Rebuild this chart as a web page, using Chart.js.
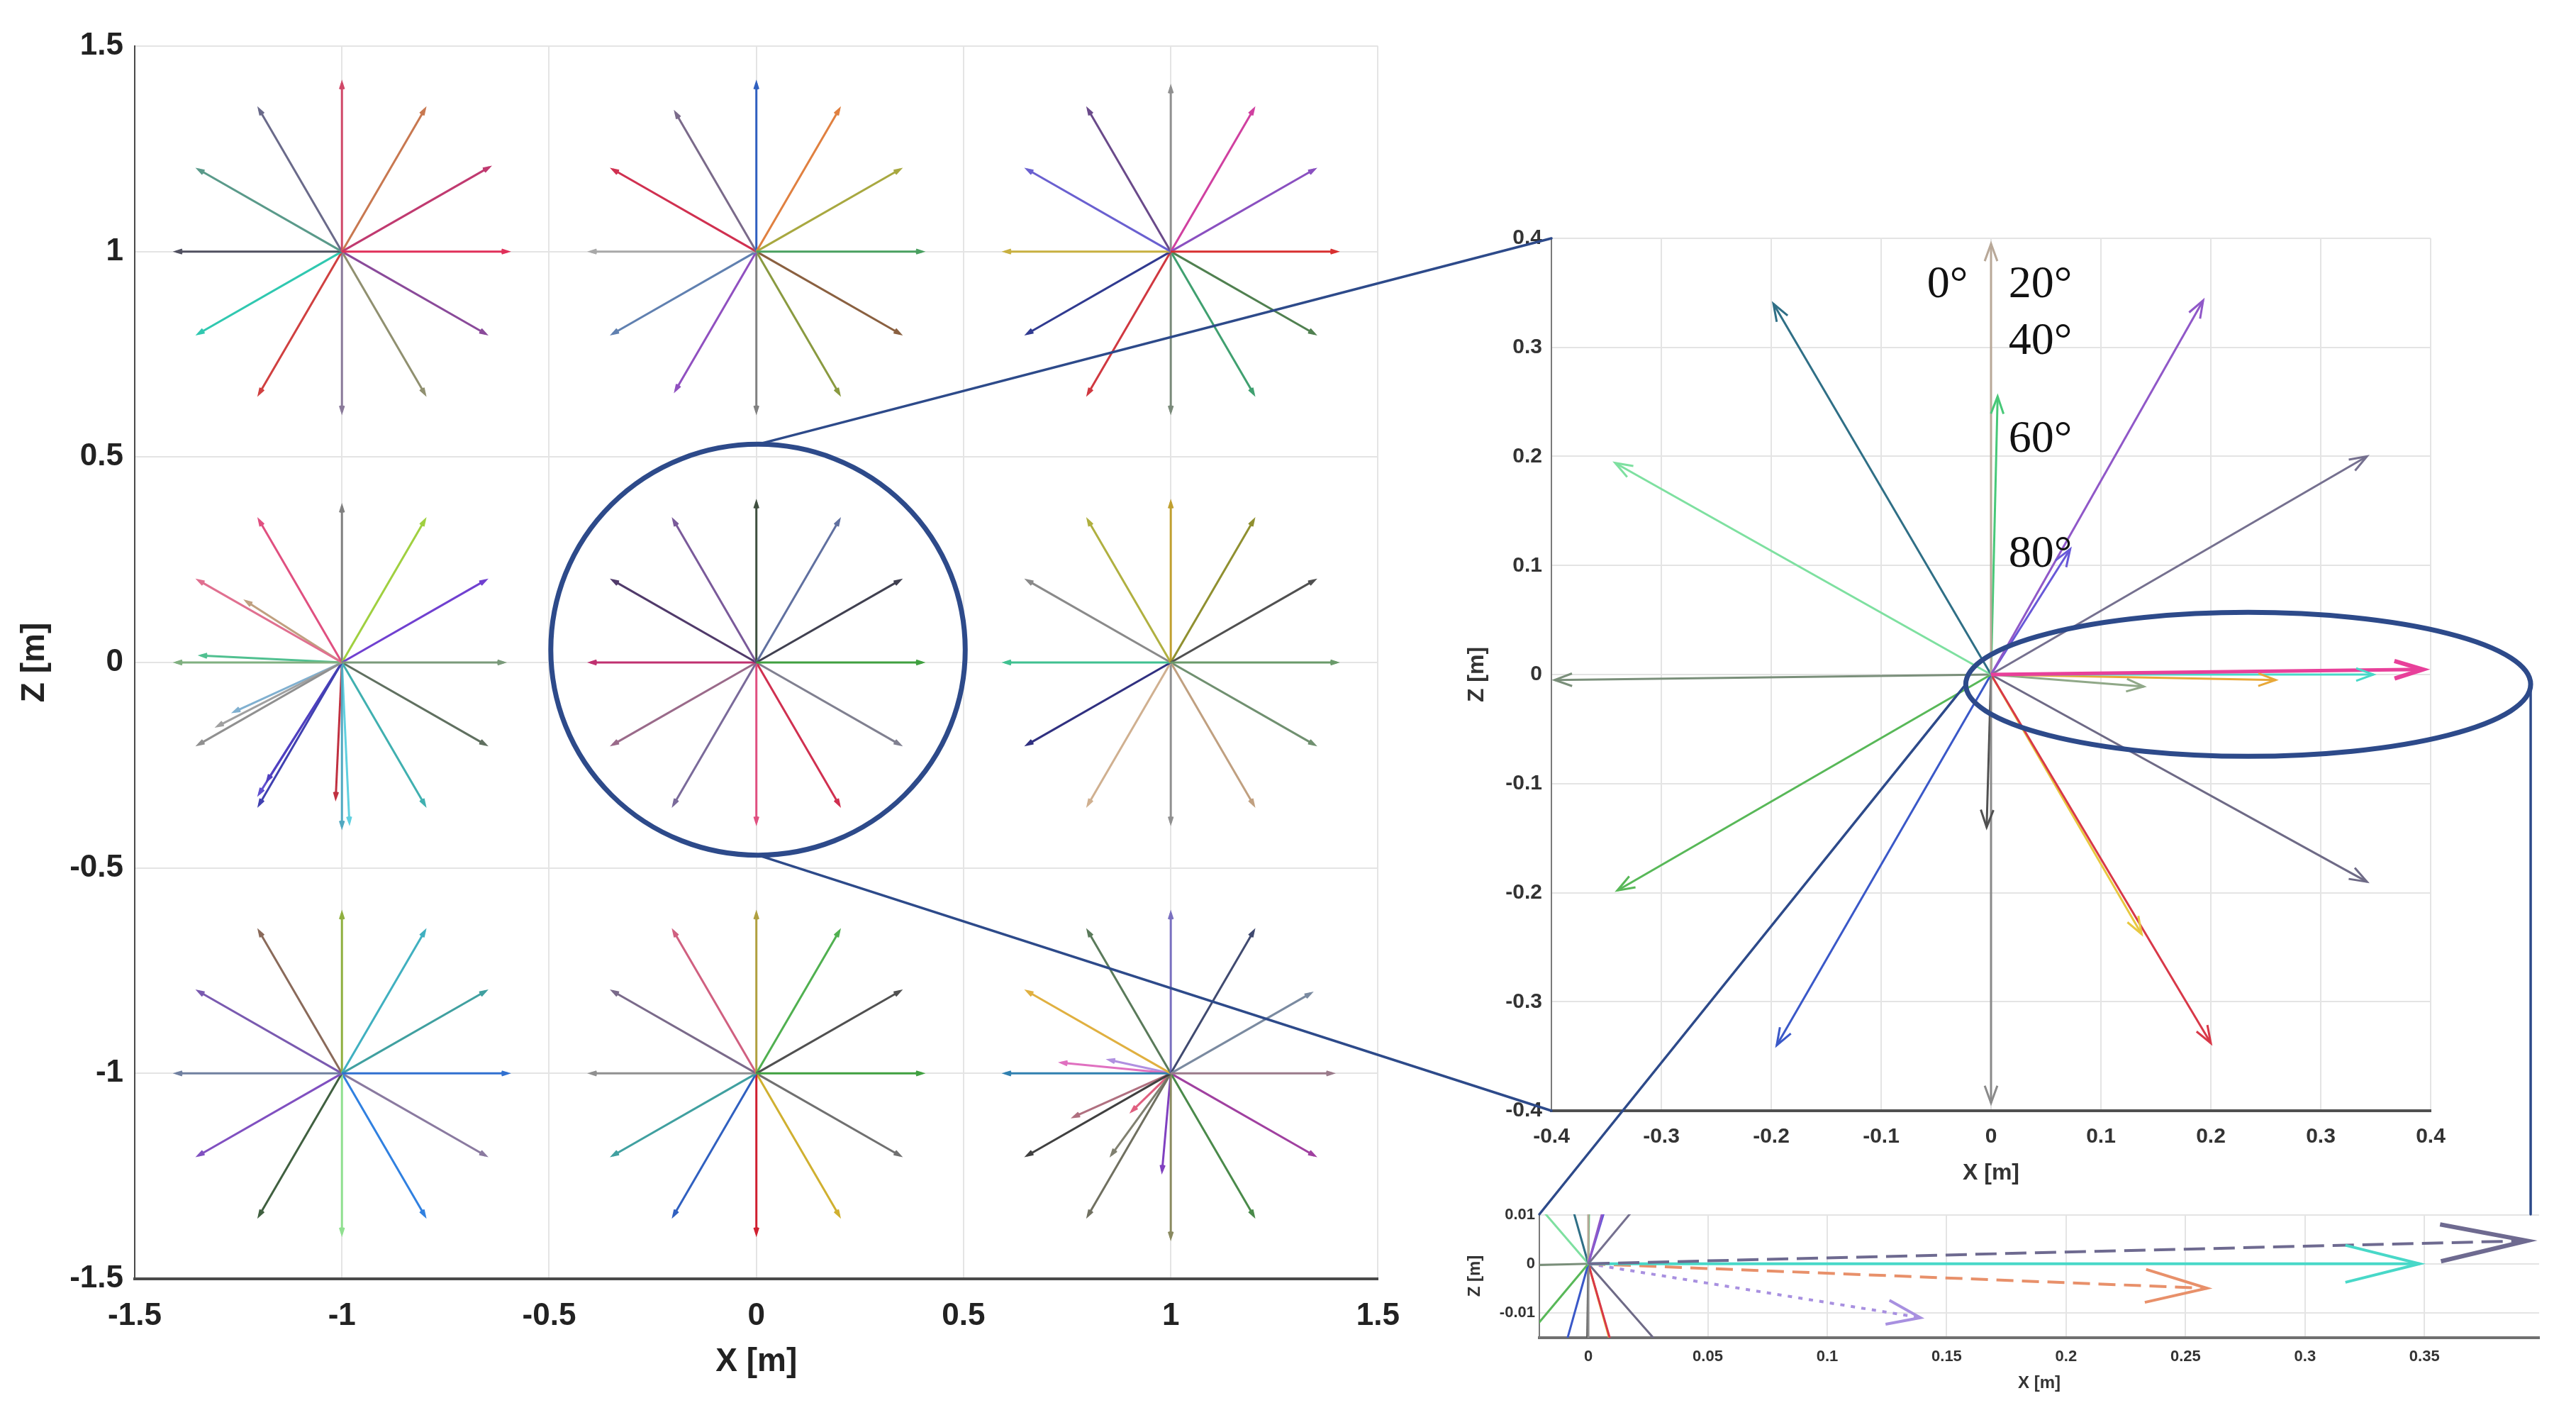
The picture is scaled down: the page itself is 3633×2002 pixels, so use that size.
<!DOCTYPE html>
<html>
<head>
<meta charset="utf-8">
<title>Quiver star patterns</title>
<script src="https://cdn.jsdelivr.net/npm/chart.js@4.4.1/dist/chart.umd.min.js"></script>
<style>
html, body { margin:0; padding:0; background:#ffffff; }
body { position:relative; width:3633px; height:2002px; overflow:hidden; }
canvas { position:absolute; display:block; }
</style>
</head>
<body>
<canvas id="mainChart" width="2000" height="2002" style="left:0px;top:0px;"></canvas>
<canvas id="insetChart" width="1470" height="1400" style="left:2030px;top:300px;"></canvas>
<canvas id="zoomChart" width="1600" height="312" style="left:2030px;top:1690px;"></canvas>
<canvas id="overlay" width="3633" height="2002" style="left:0px;top:0px;pointer-events:none;"></canvas>
<script>
// ================= DATA =================
// main chart
const mainTicksX = [-1.5, -1, -0.5, 0, 0.5, 1, 1.5];
const mainTicksZ = [-1.5, -1, -0.5, 0, 0.5, 1, 1.5];
const starCenterX = [-1, 0, 1, -1, 0, 1, -1, 0, 1];
const starCenterZ = [1, 1, 1, 0, 0, 0, -1, -1, -1];
const rayAnglesDeg = [0, 30, 60, 90, 120, 150, 180, 210, 240, 270, 300, 330];
const rayLengths = [
  [0.40, 0.41, 0.40, 0.41, 0.40, 0.40, 0.40, 0.40, 0.40, 0.39, 0.40, 0.40],
  [0.40, 0.40, 0.40, 0.41, 0.39, 0.40, 0.40, 0.40, 0.39, 0.39, 0.40, 0.40],
  [0.40, 0.40, 0.40, 0.40, 0.40, 0.40, 0.40, 0.40, 0.40, 0.39, 0.40, 0.40],
  [0.39, 0.40, 0.40, 0.38, 0.40, 0.40, 0.40, 0.40, 0.40, 0.40, 0.40, 0.40],
  [0.40, 0.40, 0.40, 0.39, 0.40, 0.40, 0.40, 0.40, 0.40, 0.39, 0.40, 0.40],
  [0.40, 0.40, 0.40, 0.39, 0.40, 0.40, 0.40, 0.40, 0.40, 0.39, 0.40, 0.40],
  [0.40, 0.40, 0.40, 0.39, 0.40, 0.40, 0.40, 0.40, 0.40, 0.39, 0.40, 0.40],
  [0.40, 0.40, 0.40, 0.39, 0.40, 0.40, 0.40, 0.40, 0.40, 0.39, 0.40, 0.40],
  [0.39, 0.39, 0.40, 0.39, 0.40, 0.40, 0.40, 0.40, 0.40, 0.40, 0.40, 0.40]
];
const extraRayStar = [3, 3, 3, 3, 3, 3, 3, 3, 8, 8, 8, 8, 8, 8];
const extraRayDX = [-0.34, -0.231, -0.30, -0.26, -0.18, -0.20, -0.015, 0.018, -0.264, -0.149, -0.234, -0.143, -0.094, -0.021];
const extraRayDZ = [0.017, 0.149, -0.155, -0.12, -0.287, -0.32, -0.33, -0.39, 0.026, 0.033, -0.106, -0.198, -0.092, -0.238];

// right inset chart (zoom on the centre star)
const insetTicksX = [-0.4, -0.3, -0.2, -0.1, 0, 0.1, 0.2, 0.3, 0.4];
const insetTicksZ = [-0.4, -0.3, -0.2, -0.1, 0, 0.1, 0.2, 0.3, 0.4];
const insetRayDX = [0.393, 0.348, 0.259, 0.139, 0.342, 0.193, 0.072, 0.000, 0.006, -0.198, -0.342, -0.397, -0.340, -0.195, 0.000, -0.004, 0.200, 0.137, 0.342];
const insetRayDZ = [0.0047, 0.000, -0.005, -0.011, 0.200, 0.343, 0.115, 0.395, 0.255, 0.340, 0.194, -0.005, -0.198, -0.340, -0.393, -0.140, -0.338, -0.238, -0.190];
const angleLabels = ['0°', '20°', '40°', '60°', '80°'];
const angleLabelX = [-0.021, 0.016, 0.016, 0.016, 0.016];
const angleLabelZ = [0.357, 0.357, 0.305, 0.215, 0.110];

// bottom-right zoom chart
const zoomTicksX = [0, 0.05, 0.1, 0.15, 0.2, 0.25, 0.3, 0.35];
const zoomTicksZ = [-0.01, 0, 0.01];

// annotation shapes (data coordinates)
const circleCenter = [0.004, 0.031];
const circleRadius = 0.5;
const ellipseCenter = [0.234, -0.009];
const ellipseRadii = [0.257, 0.066];

// ================= STYLES =================
const starColors = [
  ['#e0305a', '#c03a70', '#c87850', '#d04868', '#6a6a8a', '#5a9a8a', '#505060', '#30c8b0', '#d04040', '#8a7a9a', '#909070', '#8a4a9a'],
  ['#4aa060', '#a8a840', '#e08040', '#3060c0', '#7a6a8a', '#d03050', '#a8a8a8', '#6080b0', '#9050c0', '#808080', '#8a9a40', '#8a6040'],
  ['#d83030', '#8a50c0', '#d040a0', '#909090', '#6a4a8a', '#6a60d0', '#c8b040', '#303a90', '#d03840', '#7a8a7a', '#40a070', '#508050'],
  ['#7a9a7a', '#7040d0', '#a0d040', '#808080', '#e05080', '#e07090', '#80b080', '#909090', '#4040b0', '#50a8c0', '#40b0b0', '#607060'],
  ['#40a040', '#404050', '#6070a0', '#405040', '#7a5a9a', '#503a6a', '#c03070', '#9a6a8a', '#7a6a9a', '#e05080', '#d03050', '#808090'],
  ['#6a9a6a', '#505050', '#909030', '#c0a030', '#b0b040', '#8a8a8a', '#40c090', '#303080', '#d0b090', '#909090', '#c0a080', '#709070'],
  ['#3070d0', '#40a0a0', '#40b0c0', '#90b040', '#8a6a5a', '#7a5ab0', '#7080a0', '#8050c0', '#406040', '#90e090', '#3080e0', '#8a7aa0'],
  ['#40a040', '#505050', '#50b050', '#b0a040', '#d06080', '#7a6a8a', '#909090', '#40a0a0', '#3060c0', '#d02030', '#d0b030', '#707070'],
  ['#9a7a8a', '#7a8aa0', '#404a70', '#7a70c0', '#5a7a5a', '#e0b040', '#3080b0', '#404040', '#707060', '#8a8a60', '#4a8a4a', '#a040a0']
];
const extraRayColors = ['#50c090', '#c0a080', '#a0a0a0', '#80b0d0', '#5040c0', '#6050d0', '#c03040', '#60d0e0', '#e070c0', '#b090e0', '#b07080', '#808070', '#e06080', '#8040c0'];
const insetColors = ['#e8409a', '#48d8c8', '#e8a838', '#90a888', '#75708f', '#9058c8', '#6858d8', '#b8a898', '#48c878', '#2f6f86', '#7ee0a0', '#7a8f7a', '#58b858', '#3a58c8', '#8a8a8a', '#505050', '#d83848', '#e8c840', '#6e6a86'];
const zoomColors = ['#6e6a90', '#48d8c8', '#e8906a', '#a890e0', '#75708f', '#9058c8', '#6858d8', '#b8a898', '#48c878', '#2f6f86', '#7ee0a0', '#7a8f7a', '#58b858', '#3a58c8', '#8a8a8a', '#505050', '#d83848', '#e8c840', '#6e6a86'];
const annotColor = '#2d4a8a';
const gridColor = '#e4e4e4';

// ================= PLUGINS =================
const arrowPlugin = {
  id: 'arrowheads',
  afterDatasetsDraw(chart) {
    const ctx = chart.ctx, a = chart.chartArea;
    ctx.save();
    ctx.beginPath();
    ctx.rect(a.left, a.top, a.right - a.left, a.bottom - a.top);
    ctx.clip();
    for (let i = chart.data.datasets.length - 1; i >= 0; i--) {
      const ds = chart.data.datasets[i];
      if (!ds.arrowLen) continue;
      const meta = chart.getDatasetMeta(i);
      const n = meta.data.length;
      if (n < 2) continue;
      const p1 = meta.data[n - 1], p0 = meta.data[n - 2];
      const ang = Math.atan2(p1.y - p0.y, p1.x - p0.x);
      const h = ds.arrowAngle * Math.PI / 180;
      ctx.strokeStyle = ds.borderColor;
      ctx.lineWidth = ds.arrowWidth || ds.borderWidth;
      ctx.setLineDash([]);
      ctx.lineJoin = 'miter';
      ctx.beginPath();
      ctx.moveTo(p1.x - ds.arrowLen * Math.cos(ang - h), p1.y - ds.arrowLen * Math.sin(ang - h));
      ctx.lineTo(p1.x, p1.y);
      ctx.lineTo(p1.x - ds.arrowLen * Math.cos(ang + h), p1.y - ds.arrowLen * Math.sin(ang + h));
      ctx.stroke();
    }
    ctx.restore();
  }
};

const angleLabelPlugin = {
  id: 'angleLabels',
  afterDatasetsDraw(chart) {
    const ctx = chart.ctx;
    const sx = chart.scales.x, sz = chart.scales.y;
    ctx.save();
    ctx.font = '64px "Liberation Serif", "DejaVu Serif", serif';
    ctx.fillStyle = '#111111';
    ctx.textBaseline = 'middle';
    angleLabels.forEach((t, i) => {
      ctx.textAlign = i === 0 ? 'right' : 'left';
      ctx.fillText(t, sx.getPixelForValue(angleLabelX[i]), sz.getPixelForValue(angleLabelZ[i]));
    });
    ctx.restore();
  }
};

// ================= HELPERS =================
function axis(o) {
  return {
    type: 'linear',
    position: o.position,
    min: o.min, max: o.max,
    afterBuildTicks: s => { s.ticks = o.ticks.map(v => ({ value: v })); },
    afterFit: s => { if (o.w != null) s.width = o.w; if (o.h != null) s.height = o.h; },
    grid: { color: gridColor, lineWidth: 2, drawTicks: false },
    border: { display: true, color: o.borderColor, width: o.borderWidth },
    ticks: {
      font: o.tickFont, color: o.tickColor, padding: o.tickPad,
      maxRotation: 0, minRotation: 0, autoSkip: false,
      callback: v => String(v)
    },
    title: { display: true, text: o.title, font: o.titleFont, color: o.tickColor, padding: o.titlePad }
  };
}
function ray(x0, z0, x1, z1, color, width, extra) {
  return Object.assign({
    data: [{ x: x0, y: z0 }, { x: x1, y: z1 }],
    showLine: true, borderColor: color, backgroundColor: color,
    borderWidth: width, pointRadius: 0, pointHoverRadius: 0, fill: false
  }, extra || {});
}
const baseOptions = (padding) => ({
  responsive: false, animation: false, events: [],
  layout: { padding: padding },
  plugins: { legend: { display: false }, tooltip: { enabled: false } },
  elements: { point: { radius: 0 }, line: { tension: 0 } }
});

// ================= MAIN CHART =================
const mainDatasets = [];
for (let s = 0; s < starCenterX.length; s++) {
  for (let r = 0; r < rayAnglesDeg.length; r++) {
    const a = rayAnglesDeg[r] * Math.PI / 180, L = rayLengths[s][r];
    mainDatasets.push(ray(starCenterX[s], starCenterZ[s],
      starCenterX[s] + L * Math.cos(a), starCenterZ[s] + L * Math.sin(a),
      starColors[s][r], 3, { arrowLen: 9, arrowAngle: 18, arrowWidth: 3 }));
  }
}
for (let e = 0; e < extraRayStar.length; e++) {
  const s = extraRayStar[e];
  mainDatasets.push(ray(starCenterX[s], starCenterZ[s],
    starCenterX[s] + extraRayDX[e], starCenterZ[s] + extraRayDZ[e],
    extraRayColors[e], 3, { arrowLen: 9, arrowAngle: 18, arrowWidth: 3 }));
}
const mainOpts = baseOptions({ left: 0, top: 65, right: 47, bottom: 0 });
mainOpts.scales = {
  x: axis({ position: 'bottom', min: -1.5, max: 1.5, ticks: mainTicksX, h: 199,
    borderColor: '#4a4a4a', borderWidth: 4,
    tickFont: { family: '"Liberation Sans", Arial, sans-serif', size: 44, weight: 'bold' },
    tickColor: '#222222', tickPad: 26, title: 'X [m]',
    titleFont: { family: '"Liberation Sans", Arial, sans-serif', size: 46, weight: 'bold' },
    titlePad: { top: 0, bottom: 54 } }),
  y: axis({ position: 'left', min: -1.5, max: 1.5, ticks: mainTicksZ, w: 190,
    borderColor: '#4a4a4a', borderWidth: 2,
    tickFont: { family: '"Liberation Sans", Arial, sans-serif', size: 44, weight: 'bold' },
    tickColor: '#222222', tickPad: 16, title: 'Z [m]',
    titleFont: { family: '"Liberation Sans", Arial, sans-serif', size: 46, weight: 'bold' },
    titlePad: { top: 22, bottom: 0 } })
};
const mainChart = new Chart(document.getElementById('mainChart'), {
  type: 'scatter', data: { datasets: mainDatasets }, options: mainOpts, plugins: [arrowPlugin]
});

// ================= RIGHT INSET =================
const insetDatasets = insetRayDX.map((dx, i) => ray(0, 0, dx, insetRayDZ[i], insetColors[i], i === 0 ? 5 : 3,
  { arrowLen: i === 0 ? 42 : 26, arrowAngle: i === 0 ? 17 : 20, arrowWidth: i === 0 ? 6 : 3 }));
const insetOpts = baseOptions({ left: 0, top: 36, right: 72, bottom: 0 });
insetOpts.scales = {
  x: axis({ position: 'bottom', min: -0.4, max: 0.4, ticks: insetTicksX, h: 134,
    borderColor: '#505050', borderWidth: 4,
    tickFont: { family: '"Liberation Sans", Arial, sans-serif', size: 30, weight: 'bold' },
    tickColor: '#333333', tickPad: 19, title: 'X [m]',
    titleFont: { family: '"Liberation Sans", Arial, sans-serif', size: 32, weight: 'bold' },
    titlePad: { top: 0, bottom: 27 } }),
  y: axis({ position: 'left', min: -0.4, max: 0.4, ticks: insetTicksZ, w: 158,
    borderColor: '#7a7a7a', borderWidth: 2,
    tickFont: { family: '"Liberation Sans", Arial, sans-serif', size: 30, weight: 'bold' },
    tickColor: '#333333', tickPad: 13, title: 'Z [m]',
    titleFont: { family: '"Liberation Sans", Arial, sans-serif', size: 32, weight: 'bold' },
    titlePad: { top: 34, bottom: 0 } })
};
const insetChart = new Chart(document.getElementById('insetChart'), {
  type: 'scatter', data: { datasets: insetDatasets }, options: insetOpts, plugins: [arrowPlugin, angleLabelPlugin]
});

// ================= BOTTOM ZOOM =================
const zoomDash = [[30, 12], [], [24, 12], [6, 9]];
const zoomArrow = [[125, 12, 6], [108, 14, 4], [90, 15, 4], [50, 20, 4]];
const zoomDatasets = insetRayDX.map((dx, i) => ray(0, 0, dx, insetRayDZ[i], zoomColors[i], i < 4 ? 4 : 3,
  i < 4 ? { borderDash: zoomDash[i], arrowLen: zoomArrow[i][0], arrowAngle: zoomArrow[i][1], arrowWidth: zoomArrow[i][2] } : {}));
const zoomOpts = baseOptions({ left: 0, top: 22, right: 49, bottom: 0 });
zoomOpts.scales = {
  x: axis({ position: 'bottom', min: -0.0205, max: 0.398, ticks: zoomTicksX, h: 116,
    borderColor: '#707070', borderWidth: 4,
    tickFont: { family: '"Liberation Sans", Arial, sans-serif', size: 22, weight: 'bold' },
    tickColor: '#333333', tickPad: 14, title: 'X [m]',
    titleFont: { family: '"Liberation Sans", Arial, sans-serif', size: 24, weight: 'bold' },
    titlePad: { top: 0, bottom: 37 } }),
  y: axis({ position: 'left', min: -0.0151, max: 0.0101, ticks: zoomTicksZ, w: 141,
    borderColor: '#7a7a7a', borderWidth: 2,
    tickFont: { family: '"Liberation Sans", Arial, sans-serif', size: 22, weight: 'bold' },
    tickColor: '#333333', tickPad: 6, title: 'Z [m]',
    titleFont: { family: '"Liberation Sans", Arial, sans-serif', size: 24, weight: 'bold' },
    titlePad: { top: 36, bottom: 0 } })
};
const zoomChart = new Chart(document.getElementById('zoomChart'), {
  type: 'scatter', data: { datasets: zoomDatasets }, options: zoomOpts, plugins: [arrowPlugin]
});

// ================= OVERLAY (circle, ellipse, connectors) =================
function offsetOf(chart) {
  const c = chart.canvas;
  return { x: parseFloat(c.style.left) || 0, y: parseFloat(c.style.top) || 0 };
}
function drawOverlay() {
  const ctx = document.getElementById('overlay').getContext('2d');
  const mo = offsetOf(mainChart), io = offsetOf(insetChart), zo = offsetOf(zoomChart);
  const mx = v => mo.x + mainChart.scales.x.getPixelForValue(v);
  const mz = v => mo.y + mainChart.scales.y.getPixelForValue(v);
  const ix = v => io.x + insetChart.scales.x.getPixelForValue(v);
  const iz = v => io.y + insetChart.scales.y.getPixelForValue(v);
  ctx.strokeStyle = annotColor;
  ctx.lineCap = 'round';

  // circle around centre star
  const cx = mx(circleCenter[0]), cz = mz(circleCenter[1]);
  const rx = mx(circleCenter[0] + circleRadius) - cx;
  const rz = cz - mz(circleCenter[1] + circleRadius);
  ctx.lineWidth = 7;
  ctx.beginPath(); ctx.ellipse(cx, cz, rx, rz, 0, 0, Math.PI * 2); ctx.stroke();

  // ellipse in the right inset
  const ex = ix(ellipseCenter[0]), ez = iz(ellipseCenter[1]);
  const erx = ix(ellipseCenter[0] + ellipseRadii[0]) - ex;
  const erz = ez - iz(ellipseCenter[1] + ellipseRadii[1]);
  ctx.lineWidth = 7;
  ctx.beginPath(); ctx.ellipse(ex, ez, erx, erz, 0, 0, Math.PI * 2); ctx.stroke();

  // connectors
  const ia = insetChart.chartArea, za = zoomChart.chartArea;
  ctx.lineWidth = 3.5;
  ctx.beginPath();
  ctx.moveTo(cx, cz - rz); ctx.lineTo(io.x + ia.left, io.y + ia.top);
  ctx.moveTo(cx, cz + rz); ctx.lineTo(io.x + ia.left, io.y + ia.bottom);
  ctx.moveTo(zo.x + za.left, zo.y + za.top); ctx.lineTo(ex - erx, ez);
  ctx.moveTo(ex + erx, ez); ctx.lineTo(ex + erx, zo.y + za.top);
  ctx.stroke();
}
drawOverlay();
</script>
</body>
</html>
